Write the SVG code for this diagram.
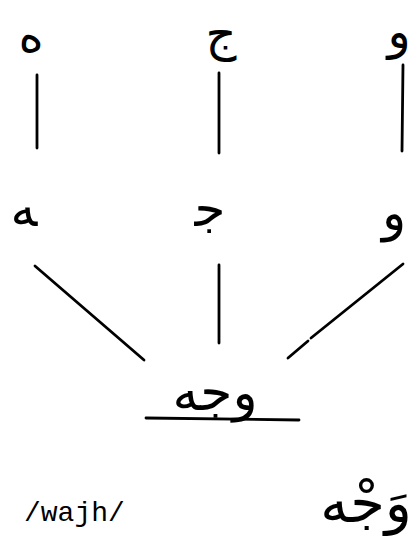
<svg xmlns="http://www.w3.org/2000/svg" width="415" height="537" viewBox="0 0 415 537">
<style>
.ar{font-family:"DejaVu Sans",sans-serif;fill:#000;text-anchor:middle}
.ln{stroke:#000;stroke-width:2.8;stroke-linecap:round;fill:none}
.lat{font-family:"Liberation Mono",monospace;font-size:28px;fill:#000}
</style>
<rect width="415" height="537" fill="#fff"/>
<g id="row1-heh"><text class="ar" x="31" y="52" font-size="48">ه</text></g>
<g id="row1-jim"><text class="ar" x="221" y="50" font-size="48">ج</text></g>
<g id="row1-waw"><text class="ar" x="399" y="48" font-size="48">و</text></g>
<g id="row2-heh"><text class="ar" x="24" y="226" font-size="50">&#x200D;ه</text></g>
<g id="row2-jim"><text class="ar" x="210" y="226" font-size="50">ج&#x200D;</text></g>
<g id="row2-waw"><text class="ar" x="394" y="230" font-size="50">و</text></g>
<g id="connectors">
<line class="ln" x1="37" y1="75" x2="37" y2="148"/>
<line class="ln" x1="219" y1="73" x2="219" y2="153"/>
<line class="ln" x1="403" y1="65" x2="402" y2="151"/>
<line class="ln" x1="35" y1="266" x2="144" y2="360"/>
<line class="ln" x1="219" y1="265" x2="219" y2="343"/>
<line class="ln" x1="403" y1="264" x2="311" y2="338"/>
<line class="ln" x1="308" y1="341" x2="288" y2="358"/>
</g>
<g id="word"><text class="ar" x="215" y="410" font-size="52">وجه</text>
<line class="ln" x1="146" y1="418" x2="299" y2="420"/></g>
<g id="vocalized"><text class="ar" x="366" y="522" font-size="56">وَجْه</text></g>
<g id="translit"><text class="lat" x="24" y="521">/wajh/</text></g>
</svg>
